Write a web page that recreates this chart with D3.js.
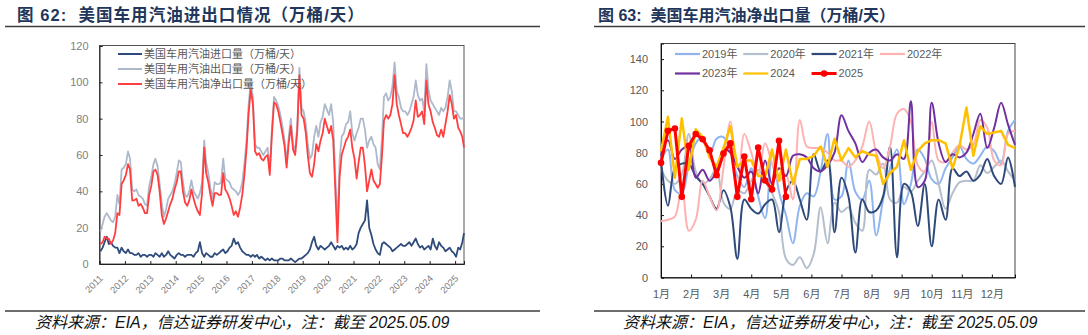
<!DOCTYPE html>
<html><head><meta charset="utf-8">
<script src="https://cdn.jsdelivr.net/npm/d3@7"></script>
<style>
html,body{margin:0;padding:0;background:#fff;}
svg{display:block;}
</style></head>
<body>
<svg id="chart" width="1088" height="335"></svg>
<script>
// ---------------- data: figure 62 (monthly, 2011-01 .. 2025-05) ----------------
const firstMonth = "2011-01";
const lastDay = "2025-05-09";
const yearTicks = ["2011","2012","2013","2014","2015","2016","2017","2018","2019","2020","2021","2022","2023","2024","2025"];
const leftYTicks = [0, 20, 40, 60, 80, 100, 120];

// 美国车用汽油进口量（万桶/天）
const importVol = [
  7, 9, 12, 15, 11, 12, 10, 9, 9, 6, 9, 7,
  6, 8, 6, 6, 5, 5, 6, 4, 5, 5, 4, 5,
  5, 4, 6, 5, 4, 6, 4, 5, 7, 5, 4, 3,
  5, 6, 5, 5, 4, 5, 5, 5, 4, 6, 7, 12,
  6, 4, 6, 5, 4, 4, 6, 5, 6, 7, 8, 6,
  7, 9, 10, 14, 11, 12, 9, 7, 6, 5, 5, 4,
  5, 4, 5, 3, 4, 3, 2, 3, 2, 3, 2, 2,
  2, 3, 3, 2, 2, 2, 3, 2, 1, 2, 3, 3,
  4, 5, 6, 8, 12, 15, 10, 8, 10, 9, 8, 9,
  10, 12, 10, 8, 10, 9, 10, 8, 9, 8, 10, 8,
  9, 11, 17, 20, 22, 24, 35, 20, 16, 11, 8, 6,
  5, 11, 12, 11, 10, 9, 7, 8, 9, 10, 11, 10,
  10, 11, 12, 10, 12, 14, 11, 9, 10, 8, 9, 10,
  8, 14, 10, 8, 12, 10, 9, 7, 8, 9, 7, 6,
  4, 9, 8, 12, 17
];
// 美国车用汽油出口量（万桶/天）
const exportVol = [
  18, 22, 26, 28, 26, 24, 23, 26, 38, 33, 52, 53,
  55, 62, 58, 41, 40, 41, 38, 37, 36, 33, 32, 43,
  48, 55, 58, 54, 44, 33, 26, 30, 36, 38, 40, 44,
  50, 57, 56, 45, 38, 37, 40, 46, 40, 38, 36, 39,
  45, 68, 56, 50, 42, 36, 45, 44, 44, 45, 58, 47,
  46, 45, 42, 41, 40, 38, 40, 45, 55, 68, 88, 100,
  92, 66, 64, 64, 62, 60, 62, 64, 52, 74, 92, 90,
  87, 82, 76, 68, 56, 70, 80, 66, 62, 76, 108, 86,
  84, 77, 66, 58, 60, 70, 76, 70, 78, 81, 88, 85,
  82, 88, 78, 48, 22, 57, 70, 72, 77, 78, 84, 72,
  68, 72, 75, 80, 80, 74, 64, 68, 70, 66, 64, 55,
  52, 70, 92, 94, 90, 92, 98, 111, 95, 92, 86, 84,
  84, 82, 84, 88, 92, 101, 93, 90, 91, 84, 110, 96,
  90, 88, 86, 84, 82, 86, 84, 86, 92, 101, 95, 84,
  84, 82, 80, 80, 81
];
// 美国车用汽油净出口量（万桶/天）
const netVol = [
  11, 12, 15, 14, 14, 11, 13, 17, 28, 27, 44, 46,
  49, 55, 52, 35, 35, 36, 32, 33, 31, 28, 28, 38,
  43, 51, 52, 49, 40, 27, 22, 25, 29, 33, 36, 41,
  45, 51, 51, 40, 34, 32, 35, 41, 36, 32, 29, 27,
  39, 64, 50, 45, 38, 32, 39, 39, 38, 38, 50, 41,
  39, 36, 32, 27, 29, 26, 31, 38, 49, 63, 83, 96,
  88, 62, 60, 61, 58, 57, 59, 60, 49, 71, 89, 88,
  84, 78, 72, 65, 53, 67, 76, 63, 60, 73, 104, 82,
  80, 72, 60, 50, 48, 55, 66, 62, 68, 72, 80, 76,
  72, 76, 68, 40, 12, 48, 60, 64, 68, 70, 74, 64,
  58, 47, 56, 64, 64, 54, 40, 46, 52, 46, 44, 42,
  44, 60, 79, 82, 80, 82, 88, 104, 88, 82, 77, 72,
  72, 70, 72, 75, 79, 90, 81, 82, 84, 77, 101, 88,
  84, 78, 75, 71, 70, 74, 70, 77, 84, 93, 88, 80,
  82, 75, 73, 70, 64
];
const leftSeriesNames = ["美国车用汽油进口量（万桶/天）", "美国车用汽油出口量（万桶/天）", "美国车用汽油净出口量（万桶/天）"];

// ---------------- data: figure 63 (weekly, by year) ----------------
const monthLabels = ["1月","2月","3月","4月","5月","6月","7月","8月","9月","10月","11月","12月"];
const rightYTicks = [0, 20, 40, 60, 80, 100, 120, 140];
const yearNames = ["2019年", "2020年", "2021年", "2022年", "2023年", "2024", "2025"];
const net2019 = [75, 82, 56, 54, 72, 86, 90, 78, 89, 90, 80, 65, 58, 70, 52, 38, 80, 55, 40, 22, 46, 54, 52, 68, 92, 50, 52, 75, 55, 50, 62, 27, 50, 70, 82, 47, 60, 82, 76, 63, 60, 70, 77, 84, 76, 73, 78, 84, 81, 73, 94, 101];
const net2020 = [70, 62, 60, 66, 92, 68, 60, 63, 70, 48, 44, 56, 54, 62, 69, 62, 54, 42, 12, 8, 13, 6, 15, 45, 22, 48, 42, 45, 35, 30, 69, 66, 73, 50, 48, 58, 55, 62, 68, 75, 60, 44, 54, 61, 62, 62, 72, 67, 71, 75, 68, 62];
const net2021 = [75, 46, 70, 73, 73, 65, 60, 52, 44, 56, 45, 12, 50, 44, 41, 47, 50, 29, 55, 62, 50, 37, 79, 68, 75, 29, 64, 52, 16, 50, 42, 43, 52, 84, 13, 60, 55, 33, 60, 20, 50, 37, 70, 65, 68, 62, 66, 76, 65, 60, 77, 58];
const net2022 = [36, 37, 39, 58, 30, 37, 62, 52, 43, 70, 100, 52, 92, 80, 66, 86, 73, 62, 66, 50, 101, 84, 83, 83, 80, 75, 75, 71, 75, 84, 100, 80, 70, 84, 105, 108, 100, 72, 68, 100, 75, 74, 80, 85, 82, 85, 101, 96, 75, 72, 92, 94];
const net2023 = [78, 88, 76, 82, 84, 64, 69, 62, 68, 82, 80, 71, 64, 68, 54, 75, 60, 70, 65, 78, 79, 77, 70, 68, 72, 80, 104, 94, 86, 74, 80, 82, 77, 75, 79, 76, 113, 58, 62, 112, 86, 74, 79, 77, 80, 92, 105, 83, 96, 112, 98, 85];
const net2024 = [81, 103, 64, 102, 69, 95, 90, 77, 71, 83, 97, 71, 75, 75, 65, 65, 82, 62, 82, 60, 76, 76, 78, 84, 71, 89, 75, 83, 77, 81, 79, 78, 60, 67, 71, 88, 69, 81, 86, 88, 88, 86, 70, 84, 109, 78, 97, 92, 93, 94, 85, 83];
const net2025 = [73.5, 94, 95.5, 51.7, 84.5, 92, 88.6, 81.6, 65.6, 79.5, 86, 51.7, 77.5, 50.2, 83.3, 62.2, 56.4, 87.6, 51.7];

const titleLeft = "图 62:  美国车用汽油进出口情况（万桶/天）";
const titleRight = "图 63:  美国车用汽油净出口量（万桶/天）";
const sourceNote = "资料来源：EIA，信达证券研发中心，注：截至 2025.05.09";

// ---------------- drawing ----------------
const FONT = '"Liberation Sans","Noto Sans CJK SC",sans-serif';
const svg = d3.select("#chart").style("font-family", FONT);
svg.append("rect").attr("width", 1088).attr("height", 335).attr("fill", "#fff");

// headers, rules and footnotes for both panels
[{x: 17, rule: [5, 540], title: titleLeft, src: 35, fs: 16.5, ls: 1.05},
 {x: 598, rule: [594, 1085], title: titleRight, src: 623, fs: 16, ls: 0}].forEach(p => {
  svg.append("text").attr("x", p.x).attr("y", 20.5)
    .attr("font-size", p.fs).attr("font-weight", "bold").attr("fill", "#21365A")
    .attr("letter-spacing", p.ls)
    .style("white-space", "pre").text(p.title);
  svg.append("line").attr("x1", p.rule[0]).attr("x2", p.rule[1])
    .attr("y1", 26.5).attr("y2", 26.5).attr("stroke", "#3c3c3c").attr("stroke-width", 1.3);
  svg.append("line").attr("x1", p.rule[0]).attr("x2", p.rule[1])
    .attr("y1", 311).attr("y2", 311).attr("stroke", "#3c3c3c").attr("stroke-width", 1.3);
  svg.append("text").attr("x", p.src).attr("y", 328)
    .attr("font-size", 16).attr("font-style", "italic").attr("fill", "#111")
    .text(sourceNote);
});

// ======== figure 62 ========
const parseMonth = d3.timeParse("%Y-%m");
const parseDay = d3.timeParse("%Y-%m-%d");
const t0 = parseMonth(firstMonth), t1 = parseDay(lastDay);
const monthPos = i => {
  const mid = d3.timeDay.offset(d3.timeMonth.offset(t0, i), 14);
  return mid > t1 ? t1 : mid;
};
const xL = d3.scaleTime().domain([t0, t1]).range([99.5, 464]);
const yL = d3.scaleLinear().domain([0, 120]).range([264, 46]);
const gL = svg.append("g");

gL.append("rect").attr("x", 99.5).attr("y", 45.5).attr("width", 364.5).attr("height", 218.5)
  .attr("fill", "none").attr("stroke", "#555").attr("stroke-width", 1);

const axL = gL.append("g").attr("transform", "translate(99.5,0)")
  .call(d3.axisLeft(yL).tickValues(leftYTicks).tickSize(-3).tickPadding(11));
axL.select(".domain").attr("stroke", "#222");
axL.selectAll("line").attr("stroke", "#222");
axL.selectAll("text").attr("font-size", 11).attr("fill", "#808080").attr("font-family", FONT);

const axLB = gL.append("g").attr("transform", "translate(0,264)")
  .call(d3.axisBottom(xL).tickValues(yearTicks.map(y => parseMonth(y + "-01"))).tickSize(-3)
    .tickFormat(d3.timeFormat("%Y")));
axLB.select(".domain").attr("stroke", "#222");
axLB.selectAll("line").attr("stroke", "#222");
axLB.selectAll("text").attr("font-size", 9.5).attr("fill", "#808080").attr("font-family", FONT)
  .attr("x", 0).attr("y", 0).attr("dy", 0).attr("text-anchor", "end")
  .attr("transform", "translate(3.5,15) rotate(-45)");

const leftSeries = [
  {name: leftSeriesNames[0], vals: importVol, color: "#2F4B7C"},
  {name: leftSeriesNames[1], vals: exportVol, color: "#ADB9CB"},
  {name: leftSeriesNames[2], vals: netVol, color: "#FF3F3F"}
];
const lineL = d3.line().x((d, i) => xL(monthPos(i))).y(d => yL(d));
leftSeries.forEach(s => {
  gL.append("path").datum(s.vals).attr("d", lineL)
    .attr("fill", "none").attr("stroke", s.color).attr("stroke-width", 1.8)
    .attr("stroke-linejoin", "round");
});
leftSeries.forEach((s, i) => {
  const yy = 54 + i * 15;
  gL.append("line").attr("x1", 118).attr("x2", 142).attr("y1", yy).attr("y2", yy)
    .attr("stroke", s.color).attr("stroke-width", 2);
  gL.append("text").attr("x", 144).attr("y", yy).attr("dy", "0.35em")
    .attr("font-size", 11).attr("fill", "#595959").text(s.name);
});

// ======== figure 63 ========
const xR = d3.scaleLinear().domain([0, 51]).range([661, 1015]);
const yR = d3.scaleLinear().domain([0, 150]).range([277.5, 43.5]);
const gR = svg.append("g");

gR.append("rect").attr("x", 661).attr("y", 43.5).attr("width", 354).attr("height", 234)
  .attr("fill", "none").attr("stroke", "#444").attr("stroke-width", 1);

const axR = gR.append("g").attr("transform", "translate(661,0)")
  .call(d3.axisLeft(yR).tickValues(rightYTicks).tickSize(-3).tickPadding(13));
axR.select(".domain").attr("stroke", "#111");
axR.selectAll("line").attr("stroke", "#111");
axR.selectAll("text").attr("font-size", 11).attr("fill", "#595959").attr("font-family", FONT);

const axRB = gR.append("g").attr("transform", "translate(0,277.5)")
  .call(d3.axisBottom(xR).tickValues(monthLabels.map((m, i) => i * 52 / 12)).tickSize(-3)
    .tickPadding(12.5).tickFormat((d, i) => monthLabels[i]));
axRB.select(".domain").attr("stroke", "#111");
axRB.selectAll("line").attr("stroke", "#111");
axRB.selectAll("text").attr("font-size", 11).attr("fill", "#595959").attr("font-family", FONT);

const rightSeries = [
  {name: yearNames[0], vals: net2019, color: "#8FB5F0", w: 2, smooth: true},
  {name: yearNames[1], vals: net2020, color: "#B4BECC", w: 2, smooth: true},
  {name: yearNames[2], vals: net2021, color: "#2F4A7A", w: 2, smooth: true},
  {name: yearNames[3], vals: net2022, color: "#FFB2B2", w: 2, smooth: true},
  {name: yearNames[4], vals: net2023, color: "#7030A0", w: 2, smooth: true},
  {name: yearNames[5], vals: net2024, color: "#FFC000", w: 2.5, smooth: false},
  {name: yearNames[6], vals: net2025, color: "#FF0000", w: 3, smooth: false, marker: true}
];
rightSeries.forEach(s => {
  const ln = d3.line().x((d, i) => xR(i)).y(d => yR(d))
    .curve(s.smooth ? d3.curveCatmullRom.alpha(0.5) : d3.curveLinear);
  gR.append("path").datum(s.vals).attr("d", ln)
    .attr("fill", "none").attr("stroke", s.color).attr("stroke-width", s.w)
    .attr("stroke-linejoin", "round");
  if (s.marker) {
    gR.selectAll(null).data(s.vals).join("circle")
      .attr("cx", (d, i) => xR(i)).attr("cy", d => yR(d)).attr("r", 3.3)
      .attr("fill", s.color);
  }
});
rightSeries.forEach((s, i) => {
  const col = i < 4 ? i : i - 4;
  const yy = i < 4 ? 54 : 73.5;
  const x0 = 675 + col * 68.3;
  gR.append("line").attr("x1", x0).attr("x2", x0 + 25).attr("y1", yy).attr("y2", yy)
    .attr("stroke", s.color).attr("stroke-width", s.marker ? 3 : 2.2);
  if (s.marker) {
    gR.append("circle").attr("cx", x0 + 12.5).attr("cy", yy).attr("r", 3.3).attr("fill", s.color);
  }
  gR.append("text").attr("x", x0 + 27).attr("y", yy).attr("dy", "0.35em")
    .attr("font-size", 11).attr("fill", "#595959").text(s.name);
});
</script>
</body></html>
